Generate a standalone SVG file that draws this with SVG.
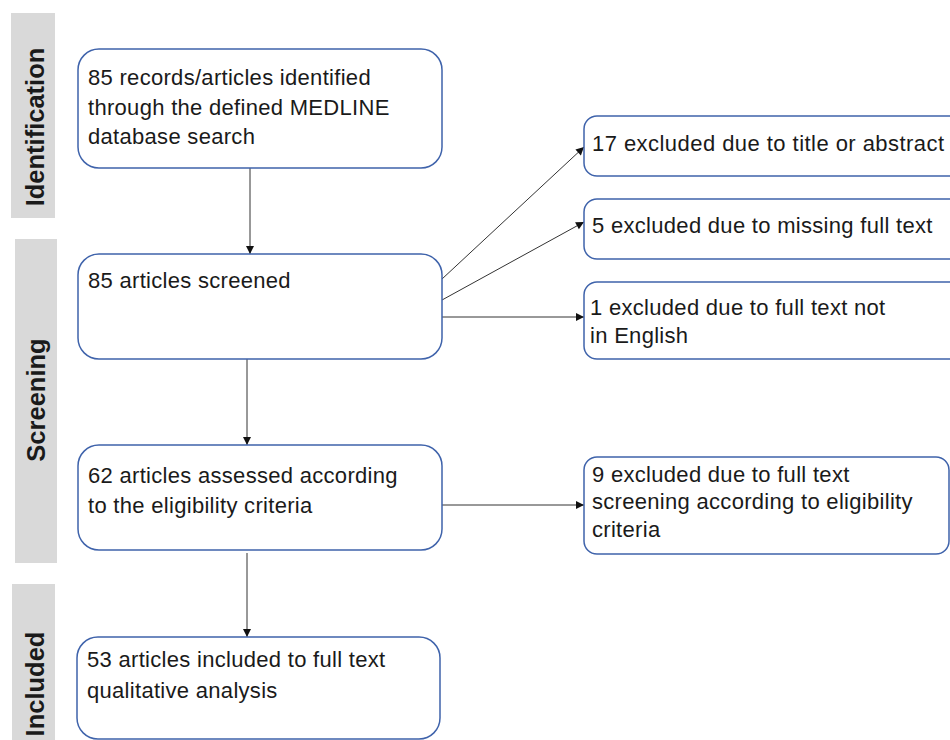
<svg xmlns="http://www.w3.org/2000/svg" width="950" height="740" viewBox="0 0 950 740">
<defs>
<marker id="ah" viewBox="0 0 10 10" refX="10" refY="5" markerWidth="9" markerHeight="8" markerUnits="userSpaceOnUse" orient="auto">
<path d="M0,0 L10,5 L0,10 z" fill="#111"/>
</marker>
<style>
.bar{fill:#d9d9d9}
.lab{font-family:"Liberation Sans",Arial,sans-serif;font-weight:bold;font-size:25.5px;fill:#1a1a1a;text-anchor:middle}
.box{fill:#fff;stroke:#3f63ab;stroke-width:1.5}
.t{font-family:"Liberation Sans",Arial,sans-serif;font-size:22px;letter-spacing:0.3px;fill:#1a1a1a}
.c{stroke:#333;stroke-width:1;fill:none;marker-end:url(#ah)}
</style>
</defs>
<rect width="950" height="740" fill="#fff"/>
<g id="phase-identification">
<rect class="bar" x="11" y="13" width="44" height="205"/>
<text class="lab" transform="translate(44,127) rotate(-90)">Identification</text>
</g>
<g id="phase-screening">
<rect class="bar" x="15" y="239" width="42" height="324"/>
<text class="lab" transform="translate(45,400) rotate(-90)">Screening</text>
</g>
<g id="phase-included">
<rect class="bar" x="12" y="584" width="43" height="160"/>
<text class="lab" transform="translate(44,684) rotate(-90)">Included</text>
</g>
<g id="connectors">
<line class="c" x1="250" y1="168" x2="250" y2="254"/>
<line class="c" x1="247" y1="359" x2="247" y2="445"/>
<line class="c" x1="247" y1="553" x2="247" y2="637"/>
<line class="c" x1="442" y1="279" x2="584" y2="147"/>
<line class="c" x1="442" y1="300" x2="584" y2="222"/>
<line class="c" x1="442" y1="317" x2="584" y2="317"/>
<line class="c" x1="442" y1="505" x2="584" y2="505"/>
</g>
<g id="n-identified">
<rect class="box" x="78" y="49" width="364" height="119" rx="21"/>
<text class="t" x="88" y="85">85 records/articles identified</text>
<text class="t" x="88" y="115">through the defined MEDLINE</text>
<text class="t" x="88" y="144">database search</text>
</g>
<g id="n-screened">
<rect class="box" x="78" y="254" width="364" height="105" rx="21"/>
<text class="t" x="88" y="288">85 articles screened</text>
</g>
<g id="n-assessed">
<rect class="box" x="78" y="445" width="364" height="105" rx="21"/>
<text class="t" x="88" y="483">62 articles assessed according</text>
<text class="t" x="88" y="513">to the eligibility criteria</text>
</g>
<g id="n-included">
<rect class="box" x="77" y="637" width="363" height="102" rx="21"/>
<text class="t" x="87" y="667">53 articles included to full text</text>
<text class="t" x="87" y="698">qualitative analysis</text>
</g>
<g id="n-excl-title">
<rect class="box" x="584" y="116" width="400" height="60" rx="13"/>
<text class="t" x="592" y="151" style="letter-spacing:0.45px">17 excluded due to title or abstract</text>
</g>
<g id="n-excl-missing">
<rect class="box" x="584" y="199" width="400" height="60" rx="13"/>
<text class="t" x="592" y="233">5 excluded due to missing full text</text>
</g>
<g id="n-excl-english">
<rect class="box" x="584" y="282" width="400" height="77" rx="13"/>
<text class="t" x="590" y="315">1 excluded due to full text not</text>
<text class="t" x="590" y="343">in English</text>
</g>
<g id="n-excl-eligibility">
<rect class="box" x="584" y="457" width="365" height="97" rx="13"/>
<text class="t" x="592" y="482">9 excluded due to full text</text>
<text class="t" x="592" y="509">screening according to eligibility</text>
<text class="t" x="592" y="537">criteria</text>
</g>
</svg>
